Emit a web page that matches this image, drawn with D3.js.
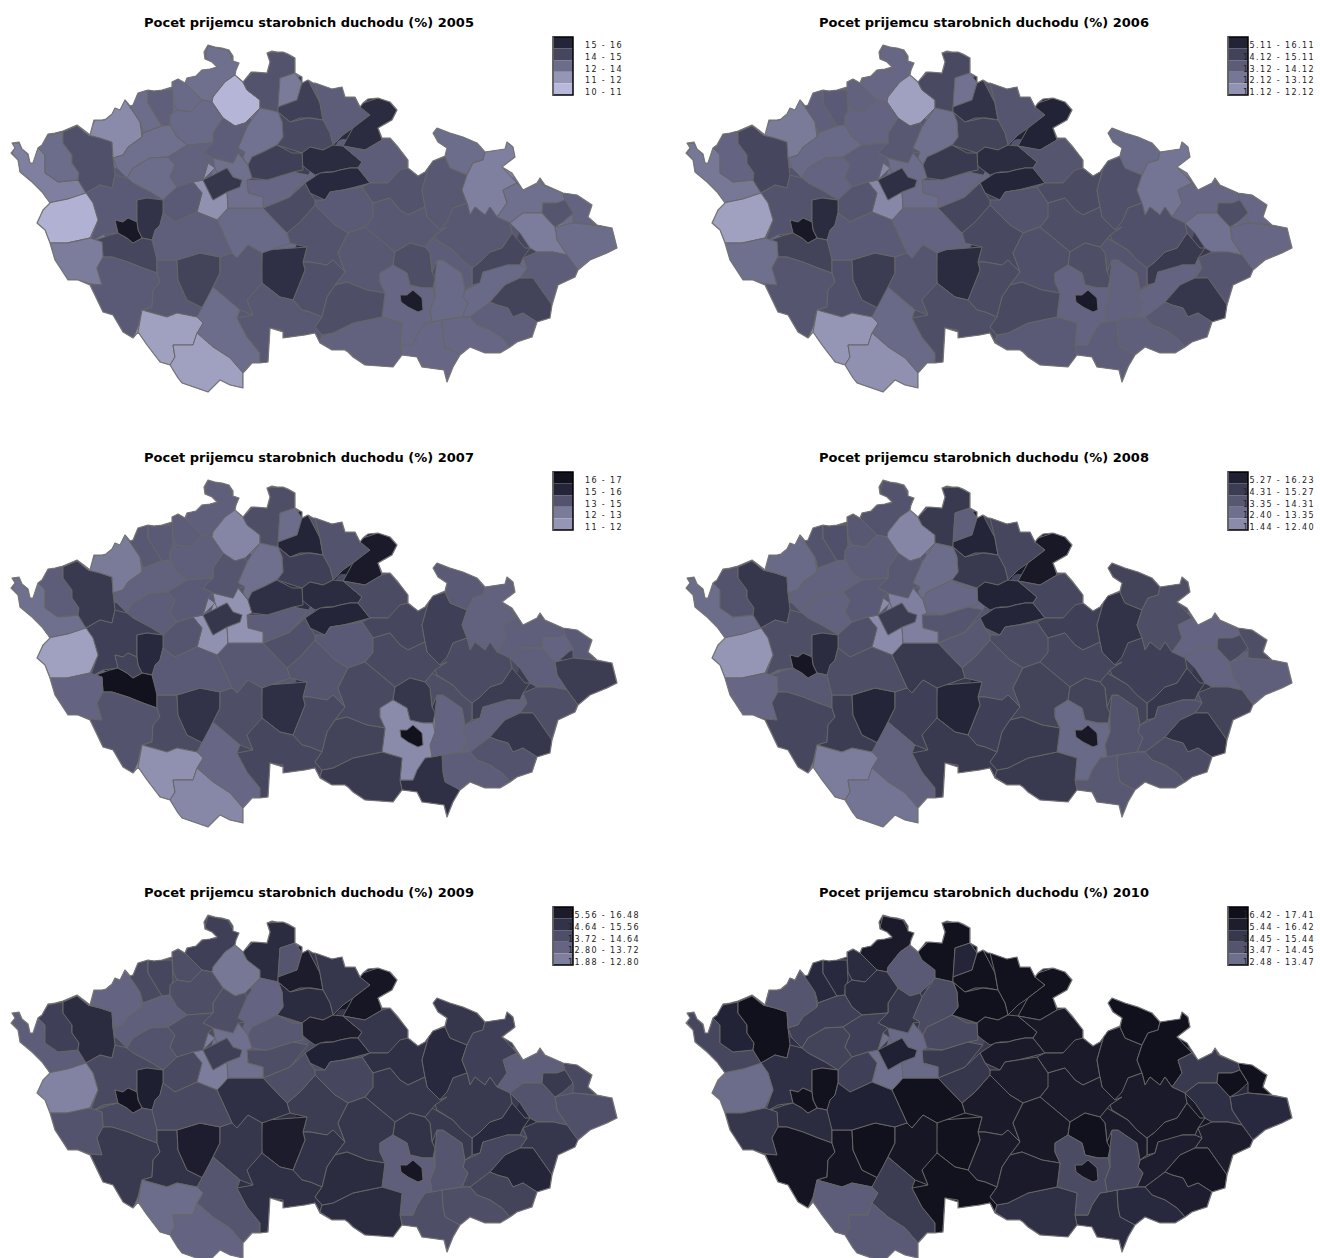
<!doctype html>
<html>
  <head>
    <meta charset="utf-8">
    <title>Pocet prijemcu starobnich duchodu</title>
    <style>
    body { margin: 0; background: #fff; }
    svg { display: block; }
    text { font-family: 'DejaVu Sans', Verdana, sans-serif; }
    </style>
    <script src="https://cdnjs.cloudflare.com/ajax/libs/d3/7.8.5/d3.min.js"></script>
  </head>
  <body>
    <div id="chart"></div>
    <script>
      // district outlines, in map units of one panel
      const districtNames = ['Cheb','Sokolov','Karlovy Vary','Chomutov','Most','Teplice','Usti','Decin','Ceska Lipa','Liberec','Jablonec','Semily','Trutnov','Nachod','Jicin','Hradec Kralove','Pardubice','Rychnov','Usti n.O.','Sumperk','Jesenik','Bruntal','Opava','Ostrava','Karvina','Frydek-Mistek','Novy Jicin','Vsetin','Prerov','Kromeriz','Zlin','Uherske Hradiste','Hodonin','Breclav','Vyskov','Prostejov','Olomouc','Svitavy','Chrudim','Havlickuv Brod','Jihlava','Pelhrimov','Benesov','Kutna Hora','Kolin','Praha','Praha-zapad','Praha-vychod','Mlada Boleslav','Nymburk','Melnik','Litomerice','Louny','Rakovnik','Kladno','Beroun','Plzen-sever','Tachov','Rokycany','Plzen-mesto','Plzen-jih','Domazlice','Klatovy','Strakonice','Pisek','Pribram','Tabor','Ceske Budejovice','Prachatice','Cesky Krumlov','Jindrichuv Hradec','Zdar','Blansko','Brno-venkov','Brno-mesto','Znojmo','Trebic'];

      const districtShapes = [
        [[12,153],[15,148],[12,143],[19,143],[22,149],[28,155],[30,163],[33,163],[38,148],[45,155],[45,173],[58,182],[78,180],[86,193],[80,197],[68,199],[48,203],[42,192],[32,182],[20,172],[18,160]],
        [[38,148],[48,135],[63,132],[63,143],[72,155],[72,163],[79,173],[75,180],[58,182],[45,173],[45,155]],
        [[63,132],[77,126],[88,135],[100,138],[112,142],[113,158],[115,175],[112,188],[100,185],[87,193],[78,180],[79,173],[72,163],[72,155],[63,143]],
        [[88,135],[95,120],[105,120],[115,108],[125,100],[132,110],[140,122],[142,137],[128,147],[123,155],[113,158],[112,142],[100,138]],
        [[125,100],[132,103],[138,93],[148,90],[148,103],[162,126],[143,133],[140,122],[132,110]],
        [[148,90],[172,90],[173,110],[172,113],[170,120],[170,125],[162,126],[148,103]],
        [[172,82],[182,78],[185,83],[202,100],[190,112],[177,110],[173,102]],
        [[185,83],[187,78],[203,69],[217,68],[205,57],[208,46],[228,50],[233,60],[239,63],[235,75],[225,82],[213,97],[212,102],[202,100]],
        [[235,75],[243,82],[247,90],[260,100],[260,108],[245,123],[235,126],[223,118],[213,103],[213,97],[225,82]],
        [[243,82],[253,72],[267,73],[270,62],[267,53],[283,52],[295,58],[295,73],[280,78],[278,112],[260,108],[260,100],[247,90]],
        [[280,78],[295,73],[302,83],[297,100],[278,107]],
        [[302,83],[308,80],[320,103],[323,120],[312,118],[300,118],[290,122],[278,112],[278,107],[297,100]],
        [[315,83],[342,87],[345,97],[357,97],[360,107],[370,115],[353,128],[343,135],[333,145],[330,133],[323,120],[320,103]],
        [[363,103],[378,98],[390,102],[397,110],[392,120],[378,128],[382,140],[365,150],[343,146],[353,128],[370,115],[360,107]],
        [[278,112],[290,122],[308,118],[323,120],[330,133],[333,145],[323,150],[310,147],[302,153],[277,145],[283,137],[282,122]],
        [[302,153],[310,147],[323,150],[333,145],[345,147],[362,162],[358,168],[350,168],[340,170],[333,172],[325,172],[315,175],[308,170],[302,165]],
        [[305,183],[320,173],[333,172],[340,170],[350,168],[360,168],[370,183],[355,187],[343,190],[330,192],[325,200],[310,193]],
        [[362,162],[345,147],[365,150],[382,140],[390,138],[408,160],[408,168],[388,183],[370,183],[358,168]],
        [[388,183],[400,170],[408,168],[418,175],[430,162],[422,190],[425,207],[408,215],[400,210],[390,198],[373,203],[362,187],[370,183]],
        [[430,162],[445,157],[450,168],[467,175],[462,190],[467,203],[453,208],[447,227],[440,230],[427,217],[425,207],[422,190]],
        [[433,133],[437,128],[450,133],[463,137],[477,143],[485,152],[483,160],[473,163],[467,175],[450,168],[445,157],[447,148],[438,142]],
        [[485,152],[505,148],[507,142],[513,147],[515,157],[502,167],[517,183],[503,190],[507,203],[497,217],[490,207],[485,215],[475,207],[470,215],[467,203],[462,190],[467,175],[473,163],[483,160]],
        [[517,183],[523,190],[537,183],[540,178],[543,185],[563,193],[565,200],[557,203],[543,203],[542,213],[523,213],[510,223],[497,217],[507,203],[503,190]],
        [[543,203],[557,203],[565,200],[573,213],[563,222],[555,227],[542,213]],
        [[565,195],[578,195],[588,203],[592,205],[588,215],[597,225],[595,228],[573,223],[573,213],[565,200]],
        [[555,228],[573,222],[593,225],[612,228],[617,248],[607,253],[590,260],[578,270],[567,255],[557,240]],
        [[510,223],[523,213],[542,213],[555,227],[557,240],[567,257],[553,252],[537,252],[530,248],[520,233]],
        [[523,258],[537,252],[553,252],[567,257],[578,270],[575,277],[558,285],[552,305],[533,278],[520,278],[527,268]],
        [[512,233],[525,248],[530,250],[523,260],[520,265],[507,265],[497,272],[483,272],[480,283],[472,285],[472,268],[480,262],[490,252],[502,248]],
        [[465,290],[480,285],[485,273],[507,267],[517,263],[527,270],[517,278],[505,285],[490,302],[470,317],[462,317],[468,303],[463,297]],
        [[488,302],[505,288],[520,278],[533,280],[552,305],[550,318],[537,322],[523,313],[513,317],[508,308],[497,305]],
        [[470,317],[487,302],[497,307],[508,308],[513,317],[523,313],[537,322],[532,337],[517,342],[510,347],[502,338],[490,330],[477,325]],
        [[442,320],[462,317],[470,318],[480,325],[490,330],[502,338],[510,347],[500,353],[485,353],[470,347],[460,355],[458,357],[445,347],[443,338]],
        [[417,335],[425,323],[442,320],[443,338],[445,347],[458,357],[453,367],[447,382],[444,370],[422,367],[417,357],[402,355],[400,345],[413,345]],
        [[435,278],[437,260],[443,260],[462,273],[465,288],[463,297],[468,305],[462,317],[442,320],[432,322],[430,310],[435,297]],
        [[432,238],[453,250],[462,260],[470,268],[472,285],[465,288],[462,273],[443,260],[437,260],[432,272],[430,253],[425,247]],
        [[435,235],[447,222],[453,208],[467,203],[470,215],[475,207],[485,215],[490,207],[497,217],[510,223],[513,232],[502,248],[490,252],[480,262],[472,268],[462,260],[453,250],[437,240]],
        [[365,227],[373,217],[370,210],[373,203],[390,198],[400,210],[408,215],[425,207],[427,217],[440,230],[447,227],[435,235],[425,247],[410,243],[395,252]],
        [[315,200],[325,200],[330,192],[343,190],[362,187],[372,203],[373,217],[365,227],[348,233],[335,225],[322,212],[314,210]],
        [[287,233],[300,222],[315,205],[322,212],[335,225],[348,233],[338,253],[345,272],[333,260],[327,265],[310,262],[303,262],[307,247],[290,243]],
        [[303,262],[310,262],[327,265],[333,260],[345,272],[335,285],[327,297],[322,317],[310,312],[302,310],[293,300],[305,270]],
        [[262,253],[267,250],[307,247],[302,262],[305,270],[293,300],[280,297],[262,283],[261,273]],
        [[217,220],[228,208],[263,208],[287,233],[290,243],[263,252],[248,245],[237,258],[232,253]],
        [[263,208],[290,197],[305,180],[310,193],[315,203],[315,205],[300,222],[287,233]],
        [[247,180],[267,180],[293,172],[308,175],[290,197],[263,208],[263,197],[248,193]],
        [[203,180],[217,173],[227,168],[233,177],[242,180],[240,187],[227,192],[213,200],[208,190]],
        [[193,182],[202,177],[208,163],[215,168],[203,180],[208,190],[213,200],[227,192],[228,208],[217,220],[197,212],[202,193]],
        [[215,168],[213,158],[233,163],[238,153],[248,165],[252,178],[247,182],[248,193],[263,197],[262,208],[228,208],[227,192],[240,187],[242,180],[233,177],[227,168],[217,173]],
        [[260,108],[278,112],[282,122],[283,137],[277,145],[263,152],[252,157],[250,165],[243,158],[245,152],[238,148],[247,127]],
        [[250,158],[263,152],[277,145],[292,153],[302,155],[303,170],[293,172],[267,180],[252,178],[249,167]],
        [[223,118],[235,126],[245,123],[247,127],[238,148],[245,152],[238,153],[233,163],[213,158],[203,153],[213,143],[213,133]],
        [[170,115],[177,110],[190,112],[202,100],[213,103],[223,118],[213,133],[213,143],[187,145],[177,137],[170,127]],
        [[115,158],[123,155],[128,147],[142,137],[143,133],[162,126],[170,127],[177,137],[187,145],[168,157],[150,158],[133,168],[127,178],[117,168]],
        [[127,180],[133,168],[150,158],[168,157],[175,165],[170,177],[177,187],[163,200],[150,192],[133,183]],
        [[168,157],[187,145],[213,143],[203,153],[213,158],[208,163],[202,177],[193,182],[177,187],[170,177],[175,165]],
        [[163,200],[177,187],[193,182],[202,193],[197,212],[175,222],[163,213]],
        [[87,195],[100,185],[112,188],[115,175],[127,178],[133,183],[150,192],[163,200],[147,198],[137,200],[137,222],[128,218],[123,222],[115,220],[118,233],[103,235],[90,242],[98,220],[93,203]],
        [[50,203],[68,199],[87,195],[93,203],[98,220],[90,238],[67,243],[50,243],[45,230],[37,223],[43,210]],
        [[137,200],[147,198],[163,202],[163,215],[160,225],[152,240],[142,238],[138,230],[137,223]],
        [[115,220],[123,222],[128,218],[137,222],[135,230],[140,238],[133,243],[127,238],[118,233]],
        [[90,242],[110,235],[117,233],[127,240],[133,243],[140,238],[152,240],[157,253],[157,273],[143,268],[128,262],[112,257],[103,257],[102,242]],
        [[50,243],[67,243],[90,238],[102,242],[105,255],[97,268],[102,285],[90,284],[78,280],[68,280],[55,260]],
        [[97,268],[105,257],[112,255],[128,262],[143,268],[158,275],[160,282],[153,290],[152,307],[142,310],[138,327],[133,338],[123,332],[113,315],[103,312],[90,285],[102,285]],
        [[157,260],[177,260],[178,280],[187,300],[203,308],[197,317],[177,313],[167,317],[143,310],[152,307],[153,290],[160,282],[158,275]],
        [[177,258],[200,253],[220,257],[220,273],[213,287],[203,308],[187,300],[178,280]],
        [[163,213],[175,222],[197,212],[217,220],[232,253],[220,257],[200,253],[177,258],[157,260],[152,240],[155,230],[160,225]],
        [[220,257],[232,253],[237,258],[248,245],[263,252],[262,283],[257,293],[247,300],[253,315],[240,310],[213,290],[220,273]],
        [[200,317],[212,290],[240,310],[237,318],[247,337],[260,353],[260,363],[252,363],[243,373],[230,358],[213,347],[197,333],[203,323]],
        [[143,310],[167,317],[177,313],[200,317],[203,323],[197,333],[193,345],[173,345],[175,357],[170,365],[160,362],[147,345],[138,332]],
        [[173,345],[193,345],[197,333],[213,347],[230,358],[243,373],[243,388],[230,385],[220,380],[208,392],[182,383],[178,378],[170,365],[175,357]],
        [[237,318],[253,315],[247,300],[262,283],[280,297],[293,300],[302,310],[310,312],[322,317],[315,327],[322,335],[320,342],[315,333],[305,335],[283,338],[283,330],[270,328],[268,362],[260,363],[260,353],[247,337]],
        [[338,253],[348,233],[365,227],[395,252],[393,265],[380,273],[380,282],[385,293],[367,290],[347,282],[335,285],[345,272]],
        [[395,252],[410,243],[425,247],[430,253],[432,272],[435,278],[433,288],[423,288],[410,285],[407,273],[393,265]],
        [[380,273],[393,265],[407,273],[410,285],[423,288],[433,288],[435,297],[430,310],[432,322],[425,323],[417,335],[413,345],[400,345],[402,323],[382,317],[385,293],[380,282]],
        [[400,295],[407,295],[413,290],[422,298],[425,297],[423,310],[418,312],[408,307],[401,302]],
        [[322,335],[333,333],[353,323],[380,317],[402,323],[400,345],[402,355],[393,367],[365,365],[353,357],[345,350],[332,350],[320,342]],
        [[327,297],[335,285],[347,282],[367,290],[385,293],[382,317],[353,323],[333,333],[322,335],[315,327],[322,317]]
      ];

      // state border, walked clockwise from the western tip
      const countryOutline = [[11,153],[15,148],[12,143],[19,142],[22,149],[28,154],[30,163],[33,163],[38,148],[42,145],[48,134],[55,133],[63,131],[70,128],[77,125],[85,131],[90,135],[94,120],[102,120],[106,119],[112,114],[115,108],[120,110],[125,100],[130,106],[133,105],[138,93],[148,90],[154,91],[162,90],[172,87],[172,82],[178,79],[185,83],[187,78],[196,76],[202,70],[210,69],[217,67],[212,62],[205,59],[204,52],[208,45],[215,47],[222,48],[229,50],[233,56],[233,61],[239,63],[236,70],[235,75],[243,82],[251,72],[255,72],[267,73],[270,62],[267,53],[272,51],[277,52],[283,52],[288,54],[295,58],[295,73],[302,77],[302,83],[308,80],[313,83],[315,83],[332,89],[342,87],[345,97],[355,97],[360,107],[363,103],[368,99],[378,98],[390,102],[397,110],[392,120],[378,128],[382,138],[390,138],[398,147],[408,160],[408,168],[418,176],[425,172],[433,161],[445,156],[447,148],[438,142],[433,133],[437,128],[450,133],[463,137],[477,143],[485,152],[505,149],[507,142],[513,147],[515,157],[502,167],[512,173],[523,190],[537,183],[540,178],[545,185],[563,193],[577,195],[592,205],[588,217],[597,225],[612,228],[617,248],[607,253],[590,260],[578,270],[575,277],[558,285],[552,305],[550,318],[537,322],[532,337],[517,342],[510,347],[500,353],[485,353],[470,347],[460,355],[453,367],[447,382],[444,370],[422,367],[417,357],[402,355],[393,367],[365,365],[353,357],[348,352],[345,350],[332,350],[320,343],[315,333],[305,335],[283,338],[283,332],[270,328],[268,362],[260,363],[252,363],[243,373],[243,388],[230,385],[220,380],[208,392],[182,383],[178,378],[170,365],[160,362],[147,345],[138,332],[133,338],[123,332],[113,315],[103,312],[90,285],[78,280],[68,280],[55,260],[50,243],[45,230],[37,223],[43,210],[50,203],[42,192],[32,182],[20,172],[18,160]];

      // districts enclosed by a neighbour, drawn last
      const enclaves = ['Praha', 'Plzen-mesto', 'Brno-mesto', 'Ostrava'];

      const years = [2005, 2006, 2007, 2008, 2009, 2010];

      // share of old-age pensioners per district, same order as districtNames
      const values2005 = [12.3,13.0,14.1,11.9,13.0,13.5,13.1,12.9,10.6,14.0,12.5,14.7,13.6,15.3,14.4,15.3,15.4,13.6,14.0,13.8,13.0,12.3,12.9,13.9,13.3,13.0,12.4,13.6,14.5,13.1,14.6,13.5,13.2,13.2,13.1,13.6,13.8,13.8,13.7,14.0,14.1,15.2,13.1,14.3,13.2,15.0,11.7,12.9,12.8,14.7,13.6,13.1,12.9,13.0,13.4,13.7,13.7,10.7,15.1,16.2,14.5,12.4,13.7,13.8,14.6,13.5,13.8,13.0,11.2,11.2,13.8,13.8,14.2,13.2,16.0,13.4,14.2];
      const values2006 = [12.6,13.3,14.5,12.5,13.5,13.7,13.4,13.2,11.2,14.4,12.8,15.1,13.9,15.6,14.6,15.3,15.5,13.9,14.3,14.1,13.1,12.7,13.2,14.2,13.2,13.2,12.8,13.9,14.9,13.3,15.0,13.8,13.5,13.6,13.4,13.9,14.1,14.2,14.0,14.4,14.3,15.3,13.3,14.5,13.2,15.2,12.0,13.0,12.9,14.9,13.8,13.3,13.1,13.3,13.6,13.9,14.0,11.2,15.3,16.2,14.6,12.9,13.9,14.1,14.8,13.7,13.9,13.1,11.5,11.7,14.2,14.1,14.2,13.3,16.1,13.7,14.4];
      const values2007 = [12.9,13.6,14.9,12.5,13.8,13.7,13.6,13.5,12.1,14.2,13.0,15.5,14.0,16.1,14.7,15.3,15.5,14.3,14.5,14.7,13.7,13.4,13.5,13.3,13.7,14.8,13.5,14.2,14.8,13.4,15.0,14.0,13.6,15.2,13.3,14.2,14.3,14.4,13.7,13.9,14.4,15.2,13.8,14.1,13.6,15.0,11.7,11.6,12.9,15.2,13.9,13.5,13.4,13.6,13.7,13.9,14.7,11.2,15.4,14.6,16.5,13.3,14.0,14.3,15.1,13.7,14.2,13.2,11.7,12.0,14.5,14.4,15.0,11.9,16.5,14.9,14.6];
      const values2008 = [13.0,14.0,15.0,13.1,14.0,14.1,13.8,14.0,12.1,14.9,13.5,15.5,14.5,16.2,14.9,15.6,15.5,14.5,14.7,15.1,14.6,14.2,13.3,14.4,14.2,13.5,13.3,14.6,15.0,14.1,15.2,14.3,13.9,13.8,14.0,14.6,14.7,14.5,14.3,14.2,14.7,15.5,14.9,13.8,13.9,14.8,11.9,12.3,13.0,13.2,13.8,13.6,13.4,13.4,13.7,14.1,14.2,11.5,15.3,16.3,13.8,13.2,14.5,14.8,15.5,14.2,14.7,13.4,12.4,12.7,14.9,14.6,14.6,13.1,16.2,14.9,14.9];
      const values2009 = [13.6,14.7,15.3,13.3,14.4,14.5,14.2,14.7,12.6,15.3,13.9,16.0,15.0,16.3,15.3,16.0,15.7,15.0,15.2,15.4,15.0,14.7,13.5,14.9,14.4,14.1,14.0,15.0,15.4,14.5,15.5,14.6,14.2,14.2,13.9,14.9,14.9,15.0,14.5,14.8,15.1,16.0,15.2,14.2,14.2,14.7,12.4,12.9,13.3,13.8,14.2,14.2,13.5,14.0,14.2,14.4,14.4,12.2,15.8,16.4,14.4,14.0,14.9,15.1,15.9,14.4,15.0,13.9,13.0,13.3,15.2,15.0,15.1,13.5,16.3,15.3,15.3];
      const values2010 = [14.5,15.6,16.7,13.9,15.4,15.4,15.3,16.1,13.7,16.5,15.5,16.5,16.5,16.5,16.6,16.4,16.1,16.2,16.1,16.3,16.7,16.7,14.9,16.7,16.7,15.4,15.2,16.0,16.3,15.9,16.4,15.9,15.4,15.3,14.5,16.1,16.1,16.1,16.0,16.1,16.1,16.5,16.5,15.0,14.9,15.7,12.9,13.1,14.3,14.4,15.0,15.3,14.7,14.6,14.7,14.7,15.2,13.0,16.5,16.5,15.3,15.0,16.4,16.4,16.7,15.7,16.3,14.8,13.6,13.7,16.5,16.2,16.7,14.3,16.4,15.2,16.1];
      const valuesByYear = [values2005, values2006, values2007, values2008, values2009, values2010];

      // legend class limits as printed, low to high
      const breaks2005 = ['10','11','12','14','15','16'];
      const breaks2006 = ['11.12','12.12','13.12','14.12','15.11','16.11'];
      const breaks2007 = ['11','12','13','15','16','17'];
      const breaks2008 = ['11.44','12.40','13.35','14.31','15.27','16.23'];
      const breaks2009 = ['11.88','12.80','13.72','14.64','15.56','16.48'];
      const breaks2010 = ['12.48','13.47','14.45','15.44','16.42','17.41'];
      const breaksByYear = [breaks2005, breaks2006, breaks2007, breaks2008, breaks2009, breaks2010];

      const width = 1320, height = 1258;
      const colStep = 675, rowStep = 435;

      const color = d3.scaleLinear()
        .domain([10.5, 11.5, 13, 14.5, 15.5, 16.5, 17.5])
        .range(['#b8b8dc', '#9595b6', '#6c6c8b', '#46465e', '#25253a', '#12121f', '#0c0c18']);

      // pull nearly coinciding corners of neighbouring districts together
      const corners = [];
      const shapes = districtShapes.map(shape => shape.map(p => {
        const hit = corners.find(c => Math.hypot(c[0] - p[0], c[1] - p[1]) < 4);
        if (hit) return hit;
        corners.push(p);
        return p;
      }));

      const svg = d3.select('#chart').append('svg')
        .attr('width', width)
        .attr('height', height);

      years.forEach((year, i) => {
        const col = i % 2, row = Math.floor(i / 2);
        const x = d3.scaleLinear().domain([0, 640]).range([col * colStep, col * colStep + 640]);
        const y = d3.scaleLinear().domain([0, 400]).range([row * rowStep, row * rowStep + 400]);
        const line = d3.line().x(d => x(d[0])).y(d => y(d[1]));
        const values = valuesByYear[i];
        const g = svg.append('g');

        g.append('clipPath')
          .attr('id', 'country' + year)
          .append('path')
          .attr('d', line(countryOutline) + 'Z');

        g.append('text')
          .attr('x', x(309))
          .attr('y', y(26.5))
          .attr('text-anchor', 'middle')
          .attr('font-size', 13)
          .attr('font-weight', 'bold')
          .attr('fill', '#000')
          .text('Pocet prijemcu starobnich duchodu (%) ' + year);

        const map = g.append('g').attr('clip-path', 'url(#country' + year + ')');

        // wide underlay closes the slivers between neighbours
        map.selectAll('path.under')
          .data(shapes)
          .join('path')
          .attr('class', 'under')
          .attr('d', d => line(d) + 'Z')
          .attr('fill', (d, j) => color(values[j]))
          .attr('stroke', (d, j) => color(values[j]))
          .attr('stroke-width', 14)
          .attr('stroke-linejoin', 'round');

        map.selectAll('path.district')
          .data(shapes)
          .join('path')
          .attr('class', 'district')
          .attr('d', d => line(d) + 'Z')
          .attr('fill', (d, j) => color(values[j]))
          .attr('stroke', '#666')
          .attr('stroke-width', 1)
          .attr('stroke-linejoin', 'round')
          .filter((d, j) => enclaves.includes(districtNames[j]))
          .raise();

        g.append('path')
          .attr('d', line(countryOutline) + 'Z')
          .attr('fill', 'none')
          .attr('stroke', '#777')
          .attr('stroke-width', 1.2)
          .attr('stroke-linejoin', 'round');

        // legend, highest class on top
        const classes = d3.range(5).reverse().map(k => [breaksByYear[i][k], breaksByYear[i][k + 1]]);
        const ly = d3.scaleBand().domain(d3.range(5)).range([y(37), y(95)]);

        g.selectAll('rect.swatch')
          .data(classes)
          .join('rect')
          .attr('class', 'swatch')
          .attr('x', x(553))
          .attr('y', (d, k) => ly(k))
          .attr('width', 20)
          .attr('height', ly.bandwidth())
          .attr('fill', d => color((+d[0] + +d[1]) / 2));

        g.append('rect')
          .attr('x', x(553))
          .attr('y', y(37))
          .attr('width', 20)
          .attr('height', 58)
          .attr('fill', 'none')
          .attr('stroke', '#000')
          .attr('stroke-width', 1.5);

        g.append('line')
          .attr('x1', x(553))
          .attr('x2', x(553))
          .attr('y1', y(37))
          .attr('y2', y(95))
          .attr('stroke', '#777')
          .attr('stroke-width', 1.5);

        g.selectAll('text.label')
          .data(classes)
          .join('text')
          .attr('class', 'label')
          .attr('x', x(604))
          .attr('y', (d, k) => ly(k) + ly.bandwidth() / 2 + 5.5)
          .attr('text-anchor', 'middle')
          .attr('font-size', 8)
          .attr('letter-spacing', 1.4)
          .attr('fill', '#222')
          .text(d => d[0] + ' - ' + d[1]);
      });
    </script>
  </body>
</html>
